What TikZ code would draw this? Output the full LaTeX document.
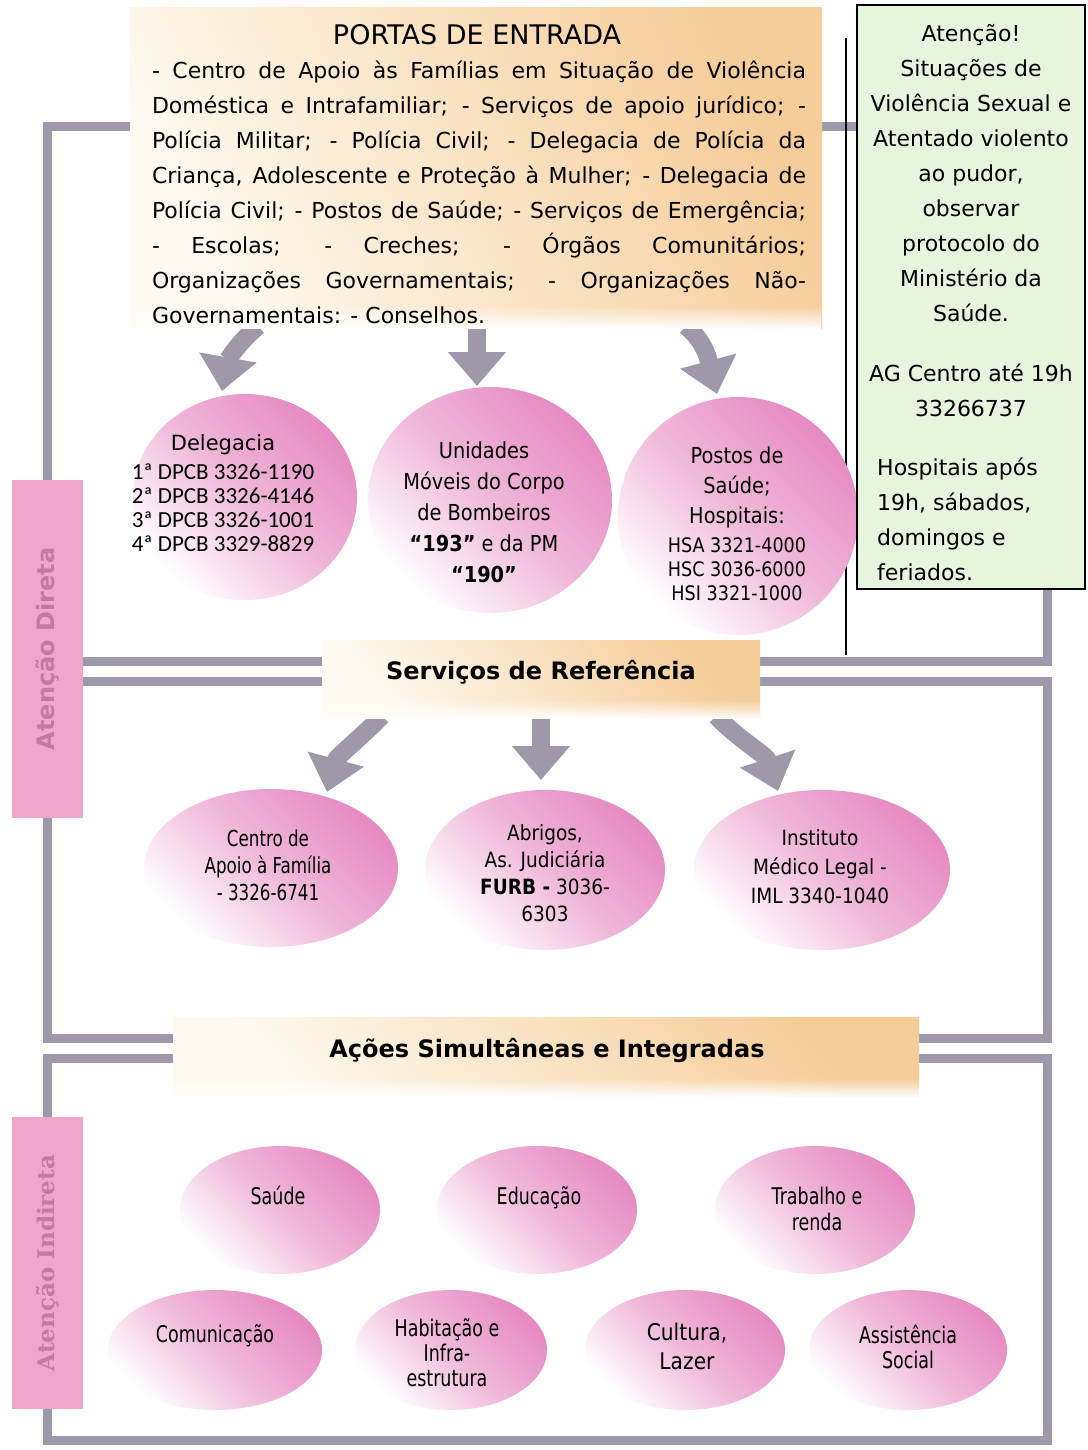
\documentclass[tikz,border=0pt]{standalone}
\usepackage{fontspec}
\setmainfont{DejaVu Sans}
\newfontfamily\condf[FakeStretch=0.88]{DejaVu Sans}
\newfontfamily\vcondf[FakeStretch=0.76]{DejaVu Sans}
\newfontfamily\calf{Carlito}
\newfontfamily\slabf{DejaVu Serif}
\usetikzlibrary{shapes.geometric,arrows.meta,fadings}
\definecolor{fgray}{RGB}{158,153,170}
\definecolor{pinkbar}{RGB}{241,166,201}
\definecolor{pinklab}{RGB}{196,122,160}
\definecolor{mint}{RGB}{230,245,222}
\definecolor{peach}{RGB}{246,204,152}
\definecolor{cream}{RGB}{254,250,240}
\definecolor{ballpink}{RGB}{230,138,194}
\begin{document}
\begin{tikzpicture}[x=1pt,y=-1pt,
  frame/.style={draw=fgray,line width=9pt},
  ball/.style={ellipse,inner sep=0pt,top color=ballpink,bottom color=white,middle color=ballpink!60!white,shading angle=-45},
  garrow/.style={draw=fgray,line width=18pt,-{Triangle[width=56pt,length=34pt]}},
  hbox/.style={rectangle,inner sep=0pt,top color=peach,bottom color=cream,shading angle=-65},
  softedge/.style={fill=white,path fading=north},
  txt/.style={inner sep=0pt,align=center},
  sidebar/.style={fill=pinkbar,inner sep=0pt,minimum width=71pt},
  sidelab/.style={rotate=90,text=pinklab,inner sep=0pt},
]
\useasboundingbox (0,0) rectangle (1087,1450);
\fill[white] (0,0) rectangle (1087,1450);

% frames
\draw[frame] (47,127) rectangle (1047,661);
\draw[frame] (47,681) rectangle (1047,1038);
\draw[frame] (47,1058) rectangle (1047,1440);

% thin black line
\coordinate (bl1) at (846,38);
\coordinate (bl2) at (846,655);
\draw[line width=1.6pt] (bl1) -- (bl2);

% side bars
\node[sidebar,minimum height=338pt] (barD) at (47.5,649) {};
\node[sidelab,font=\bfseries\fontsize{24}{28}\selectfont] (labD) at (barD.center) {Atenção Direta};
\node[sidebar,minimum height=292pt] (barI) at (47.5,1263) {};
\node[sidelab,font=\slabf\bfseries\fontsize{23}{27}\selectfont] (labI) at (barI.center) {Atenção Indireta};

% row 1 balls
\node[ball,minimum width=224pt,minimum height=206pt] (e1) at (245,497) {};
\node[ball,minimum width=244pt,minimum height=226pt] (e2) at (490,500) {};
\node[ball,minimum width=240pt,minimum height=238pt] (e3) at (738,516) {};
\node[anchor=base,inner sep=0pt,font=\fontsize{21}{28}\selectfont] (e1t) at (223,450) {Delegacia};
\node[txt,anchor=north,font=\calf\fontsize{23}{24}\selectfont] (e1n) at (223,464)
{1ª DPCB 3326-1190\\2ª DPCB 3326-4146\\3ª DPCB 3326-1001\\4ª DPCB 3329-8829};
\node[txt,anchor=north,font=\condf\fontsize{22}{31}\selectfont] (e2t) at (484,442)
{Unidades\\Móveis do Corpo\\de Bombeiros\\\textbf{“193”} e da PM\\\textbf{“190”}};
\node[txt,anchor=north,font=\condf\fontsize{22}{30}\selectfont] (e3t) at (737,447)
{Postos de\\Saúde;\\Hospitais:};
\node[txt,anchor=north,font=\condf\fontsize{20}{24}\selectfont] (e3n) at (737,537)
{HSA 3321-4000\\HSC 3036-6000\\HSI 3321-1000};

% row 2 balls
\node[ball,minimum width=254pt,minimum height=158pt] (f1) at (271,868) {};
\node[ball,minimum width=240pt,minimum height=160pt] (f2) at (545,870) {};
\node[ball,minimum width=256pt,minimum height=160pt] (f3) at (822,870) {};
\node[txt,anchor=north,font=\vcondf\fontsize{22}{27}\selectfont] (f1t) at (268,830)
{Centro de\\Apoio à Família\\- 3326-6741};
\node[txt,anchor=north,font=\condf\fontsize{21}{27}\selectfont] (f2t) at (545,824)
{Abrigos,\\As. Judiciária\\\textbf{FURB -} 3036-\\6303};
\node[txt,anchor=north,font=\condf\fontsize{21}{29}\selectfont] (f3t) at (820,829)
{Instituto\\Médico Legal -\\IML 3340-1040};

% row 3 balls
\node[ball,minimum width=200pt,minimum height=128pt] (g1) at (280,1210) {};
\node[ball,minimum width=200pt,minimum height=128pt] (g2) at (537,1210) {};
\node[ball,minimum width=200pt,minimum height=128pt] (g3) at (815,1210) {};
\node[ball,minimum width=214pt,minimum height=120pt] (h1) at (215,1350) {};
\node[ball,minimum width=192pt,minimum height=120pt] (h2) at (451,1350) {};
\node[ball,minimum width=200pt,minimum height=120pt] (h3) at (685,1350) {};
\node[ball,minimum width=198pt,minimum height=120pt] (h4) at (908,1350) {};
\node[anchor=base,inner sep=0pt,font=\vcondf\fontsize{23}{26}\selectfont] (g1t) at (278,1204) {Saúde};
\node[anchor=base,inner sep=0pt,font=\vcondf\fontsize{23}{26}\selectfont] (g2t) at (539,1204) {Educação};
\node[txt,anchor=north,font=\vcondf\fontsize{23}{26}\selectfont] (g3t) at (817,1187) {Trabalho e\\renda};
\node[anchor=base,inner sep=0pt,font=\vcondf\fontsize{23}{26}\selectfont] (h1t) at (215,1342) {Comunicação};
\node[txt,anchor=north,font=\vcondf\fontsize{23}{25}\selectfont] (h2t) at (447,1318) {Habitação e\\Infra-\\estrutura};
\node[txt,anchor=north,font=\condf\fontsize{23}{29}\selectfont] (h3t) at (687,1323) {Cultura,\\Lazer};
\node[txt,anchor=north,font=\vcondf\fontsize{23}{25}\selectfont] (h4t) at (908,1325) {Assistência\\Social};

% arrows row 1
\coordinate (a1s) at (258,326);
\coordinate (a1e) at (222,391);
\coordinate (a2s) at (477,326);
\coordinate (a2e) at (477,386);
\coordinate (a3s) at (686,326);
\coordinate (a3e) at (717,394);
\draw[garrow] (a1s) to[out=-140,in=80] (a1e);
\draw[garrow] (a2s) -- (a2e);
\draw[garrow] (a3s) to[out=-40,in=105] (a3e);

% arrows row 2
\coordinate (b1s) at (382,716);
\coordinate (b1e) at (327,792);
\coordinate (b2s) at (541,716);
\coordinate (b2e) at (541,780);
\coordinate (b3s) at (716,716);
\coordinate (b3e) at (778,791);
\draw[garrow] (b1s) to[out=-135,in=75] (b1e);
\draw[garrow] (b2s) -- (b2e);
\draw[garrow] (b3s) to[out=-45,in=108] (b3e);

% PORTAS box
\node[hbox,minimum width=692pt,minimum height=320pt] (portas) at (476,168) {};
\fill[softedge] (130,306) rectangle (822,329);
\node[anchor=base,inner sep=0pt,font=\fontsize{27}{30}\selectfont] (ptitle) at (477,45) {PORTAS DE ENTRADA};
\node[anchor=north,text width=654pt,align=justify,inner sep=0pt,font=\fontsize{22}{35}\selectfont] (pbody) at (479,61)
{\noindent - Centro de Apoio às Famílias em Situação de Violência\linebreak
Doméstica e Intrafamiliar; - Serviços de apoio jurídico; -\linebreak
Polícia Militar; - Polícia Civil; - Delegacia de Polícia da\linebreak
Criança, Adolescente e Proteção à Mulher; - Delegacia de\linebreak
Polícia Civil; - Postos de Saúde; - Serviços de Emergência;\linebreak
- Escolas; - Creches; - Órgãos Comunitários;\linebreak
Organizações Governamentais; - Organizações Não-\linebreak
Governamentais: - Conselhos.};

% Servicos box
\node[hbox,shading angle=-50,minimum width=438pt,minimum height=78pt] (serv) at (541,679) {};
\fill[softedge] (322,700) rectangle (760,719);
\node[anchor=base,inner sep=0pt,font=\bfseries\fontsize{24}{28}\selectfont] (servt) at (541,679) {Serviços de Referência};

% Acoes box
\node[hbox,shading angle=-50,minimum width=746pt,minimum height=79pt] (acoes) at (546,1057) {};
\fill[softedge] (173,1078) rectangle (919,1097.5);
\node[anchor=base,inner sep=0pt,font=\bfseries\fontsize{24}{28}\selectfont] (acoest) at (547,1057) {Ações Simultâneas e Integradas};

% green box
\node[draw=black,line width=1.5pt,fill=mint,minimum width=228pt,minimum height=584pt,inner sep=0pt] (green) at (971,297) {};
\node[txt,anchor=north,font=\fontsize{22}{35}\selectfont] (gr1) at (971,24)
{Atenção!\\Situações de\\Violência Sexual e\\Atentado violento\\ao pudor,\\observar\\protocolo do\\Ministério da\\Saúde.};
\node[txt,anchor=north,font=\fontsize{22}{35}\selectfont] (gr2) at (971,364)
{AG Centro até 19h\\33266737};
\node[inner sep=0pt,align=left,anchor=north west,font=\fontsize{22}{35}\selectfont] (gr3) at (877,458)
{Hospitais após\\19h, sábados,\\domingos e\\feriados.};
\end{tikzpicture}
\end{document}
